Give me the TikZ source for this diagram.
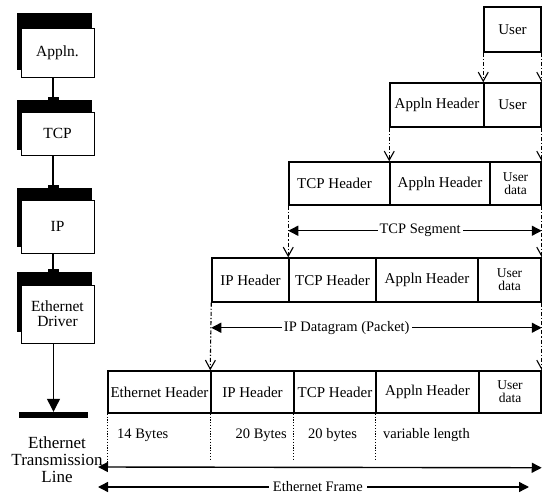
\documentclass[tikz,border=0pt]{standalone}
\usepackage{fontspec}
\setmainfont{Liberation Serif}
\usetikzlibrary{arrows.meta}
\pgfdeclarelayer{conn}
\pgfsetlayers{conn,main}
\begin{document}
\begin{tikzpicture}[x=1pt,y=-1pt,
  cell/.style={draw,line width=1.5pt,inner sep=0pt,align=center,font=\fontsize{15}{16}\selectfont},
  twoline/.style={font=\fontsize{13.5}{13}\selectfont},
  stackbox/.style={draw,fill=white,line width=1pt,inner sep=0pt,minimum width=73pt,align=center,font=\fontsize{15.5}{17}\selectfont},
  shadowbar/.style={fill=black},
  dd/.style={line width=1.1pt,dash pattern=on 4pt off 2pt on 1.2pt off 2pt},
  vtip/.style={-{Straight Barb[length=9pt,width=10pt,line width=1.1pt]}},
  span/.style={line width=1.4pt,{Triangle[length=10pt,width=10pt]}-{Triangle[length=10pt,width=10pt]}},
  dotln/.style={line width=1.2pt,dash pattern=on 1.2pt off 1.6pt},
  lbl/.style={font=\fontsize{14.5}{16}\selectfont,inner sep=1pt},
  spanlbl/.style={fill=white,inner sep=2pt,font=\fontsize{14.5}{16}\selectfont}
]
\useasboundingbox (0,0) rectangle (542,498);

% ---- left protocol stack ----
\fill[shadowbar] (17,13) rectangle (92,70);
\node[stackbox,minimum height=49pt] (appln) at (57.5,52.5) {Appln.};
\fill[shadowbar] (17,100) rectangle (92,150);
\node[stackbox,minimum height=43pt] (tcp) at (57.5,133.5) {TCP};
\fill[shadowbar] (17,188) rectangle (92,247);
\node[stackbox,minimum height=53pt] (ip) at (57.5,226.5) {IP};
\fill[shadowbar] (17,272) rectangle (92,332);
\node[stackbox,minimum height=58pt] (drv) at (57.5,314) {Ethernet\\[-2pt]Driver};
\node[fill=black,minimum width=69pt,minimum height=6pt,inner sep=0pt] (bar) at (53.5,415) {};
\node[align=center,font=\fontsize{17}{17}\selectfont,inner sep=0pt] (etl) at (57,460) {Ethernet\\Transmission\\Line};

\begin{pgfonlayer}{conn}
\draw[line width=1.2pt,-{Rectangle[length=4pt,width=11pt]}] ([xshift=-4.5pt]appln.south) -- ([xshift=-4.5pt,yshift=11pt]tcp.north);
\draw[line width=1.2pt,-{Rectangle[length=4pt,width=11pt]}] ([xshift=-4.5pt]tcp.south) -- ([xshift=-4.5pt,yshift=11pt]ip.north);
\draw[line width=1.2pt,-{Rectangle[length=4pt,width=11pt]}] ([xshift=-4.5pt]ip.south) -- ([xshift=-4.5pt,yshift=12pt]drv.north);
\end{pgfonlayer}
\draw[line width=1.2pt,-{Triangle[length=13pt,width=13pt]}] (drv.south -| bar.north) -- (bar.north);

% ---- encapsulation rows ----
\node[cell,minimum width=57pt,minimum height=45pt] (u1) at (512.5,29.5) {User};

\node[cell,minimum width=94pt,minimum height=44pt] (r2a) at (437,105) {Appln Header};
\node[cell,minimum width=57pt,minimum height=44pt] (r2b) at (512.5,105) {User};

\node[cell,minimum width=101pt,minimum height=43pt] (r3a) at (339.5,183.5) {TCP Header\hspace{10pt}};
\node[cell,minimum width=100pt,minimum height=43pt] (r3b) at (440,183.5) {Appln Header};
\node[cell,twoline,minimum width=51pt,minimum height=43pt] (r3c) at (515.5,183.5) {User\\data};

\node[cell,minimum width=77pt,minimum height=44pt] (r4a) at (250.5,280) {IP Header};
\node[cell,minimum width=87pt,minimum height=44pt] (r4b) at (332.5,280) {TCP Header};
\node[cell,minimum width=102pt,minimum height=44pt] (r4c) at (427,280) {Appln Header};
\node[cell,twoline,minimum width=63pt,minimum height=44pt] (r4d) at (509.5,280) {User\\data};

\node[cell,minimum width=103pt,minimum height=42pt] (r5a) at (159.5,392) {Ethernet Header};
\node[cell,minimum width=83pt,minimum height=42pt] (r5b) at (252.5,392) {IP Header};
\node[cell,minimum width=82pt,minimum height=42pt] (r5c) at (335,392) {TCP Header};
\node[cell,minimum width=103pt,minimum height=42pt] (r5d) at (427.5,392) {Appln Header};
\node[cell,twoline,minimum width=62pt,minimum height=42pt] (r5e) at (510,392) {User\\data};

% ---- dashed encapsulation links ----
\draw[dd,vtip] (u1.south west) -- (r2b.north west);
\draw[dd,vtip] (u1.south east) -- (r2b.north east);
\draw[dd,vtip] (r2a.south west) -- (r3b.north west);
\draw[dd,vtip] (r2b.south east) -- (r3c.north east);
\draw[dd,vtip] (r3a.south west) -- (r4b.north west);
\draw[dd,vtip] (r3c.south east) -- (r4d.north east);
\draw[dd,vtip] (r4a.south west) -- (r5b.north west);
\draw[dd,vtip] (r4d.south east) -- (r5e.north east);

% ---- span arrows ----
\coordinate (ts1) at ([yshift=-25pt]r3a.south west);
\coordinate (ts2) at ([yshift=-25pt]r3c.south east);
\draw[span] (ts1) -- node[spanlbl,pos=0.52] (tsl) {TCP Segment} (ts2);
\coordinate (ip1) at ([yshift=-25pt]r4a.south west);
\coordinate (ip2) at ([yshift=-25pt]r4d.south east);
\draw[span] (ip1) -- node[spanlbl,pos=0.41] (ipl) {IP Datagram (Packet)} (ip2);

% ---- byte sizes ----
\draw[dotln] (r5a.south west) -- ([yshift=-49pt]r5a.south west);
\draw[dotln] (r5b.south west) -- ([yshift=-45pt]r5b.south west);
\draw[dotln] (r5c.south west) -- ([yshift=-45pt]r5c.south west);
\draw[dotln] (r5d.south west) -- ([yshift=-45pt]r5d.south west);
\node[lbl,anchor=west] (b1) at (116,435) {14 Bytes};
\node[lbl,anchor=east] (b2) at (288,435) {20 Bytes};
\node[lbl,anchor=west] (b3) at (307,435) {20 bytes};
\node[lbl,anchor=west] (b4) at (382,435) {variable length};

\coordinate (f1) at (98,467);
\coordinate (f2) at ([yshift=-54pt]r5e.south east);
\draw[span] (f1) -- (f2);
\coordinate (g1) at (98,487);
\coordinate (g2) at (529,487);
\draw[span] (g1) -- node[spanlbl,pos=0.51,inner sep=4pt] (efl) {Ethernet Frame} (g2);
\end{tikzpicture}
\end{document}
